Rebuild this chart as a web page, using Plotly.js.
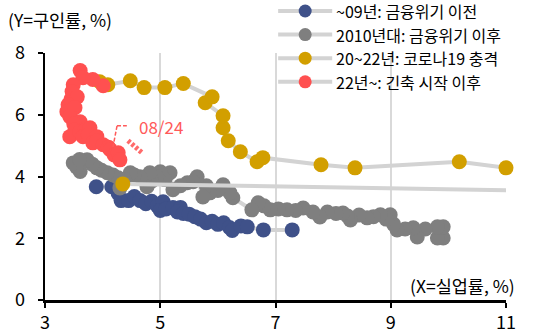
<!DOCTYPE html>
<html>
<head>
<meta charset="utf-8">
<script src="https://cdn.plot.ly/plotly-3.0.1.min.js"></script>
<style>html,body{margin:0;padding:0;background:#fff;}#chart{width:543px;height:333px;}</style>
</head>
<body>
<div id="chart"></div>
<script>
// Series names and colours
const seriesNames = ["~09년: 금융위기 이전", "2010년대: 금융위기 이후", "20~22년: 코로나19 충격", "22년~: 긴축 시작 이후"];
const seriesColors = ["#3f5189", "#7f7f7f", "#d29f00", "#ff5050"];

// ~09: unemployment rate (x) and job openings rate (y)
const preX = [3.89, 4.16, 4.27, 4.32, 4.45, 4.55, 4.65, 4.75, 4.85, 4.95, 5.05, 5.00, 5.10, 5.22, 5.35, 5.30, 5.40, 5.50, 5.60, 5.70, 5.80, 5.90, 6.00, 6.10, 6.20, 6.25, 6.40, 6.51, 6.79, 7.29];
const preY = [3.67, 3.67, 3.45, 3.22, 3.22, 3.35, 3.22, 3.12, 3.20, 3.05, 3.18, 2.90, 2.95, 3.00, 3.00, 2.85, 2.80, 2.78, 2.70, 2.62, 2.50, 2.55, 2.45, 2.50, 2.35, 2.25, 2.40, 2.37, 2.27, 2.27];

// 2010s
const decX = [9.91, 9.81, 9.91, 9.81, 9.60, 9.46, 9.39, 9.25, 9.11, 9.05, 8.99, 8.92, 8.82, 8.70, 8.59, 8.45, 8.30, 8.25, 8.17, 8.05, 7.90, 7.77, 7.65, 7.48, 7.35, 7.20, 7.05, 6.91, 6.80, 6.70, 6.59, 6.26, 6.21, 6.09, 6.00, 5.86, 5.80, 5.74, 5.64, 5.57, 5.47, 5.35, 5.22, 5.17, 5.08, 5.00, 4.94, 4.85, 4.77, 4.82, 4.65, 4.55, 4.48, 4.38, 4.30, 4.27, 4.18, 4.08, 3.98, 3.90, 3.82, 3.73, 3.61, 3.55, 3.49, 3.60];
const decY = [2.01, 2.01, 2.37, 2.37, 2.30, 2.04, 2.34, 2.30, 2.27, 2.45, 2.76, 2.62, 2.76, 2.70, 2.66, 2.75, 2.59, 2.72, 2.82, 2.80, 2.85, 2.69, 2.85, 2.98, 2.90, 2.92, 2.95, 2.92, 3.05, 3.15, 2.92, 3.31, 3.47, 3.73, 3.55, 3.47, 3.70, 3.34, 3.99, 3.83, 3.80, 3.70, 3.57, 4.12, 3.90, 4.15, 3.99, 3.85, 3.67, 4.12, 3.99, 4.05, 4.12, 3.90, 3.63, 3.96, 4.05, 4.12, 4.20, 4.28, 4.40, 4.54, 4.16, 4.30, 4.44, 4.55];

// 2020-2022 (COVID shock); April/May 2020 lie beyond the x-axis range
const covX = [4.35, 14.8, 13.2, 11.0, 10.19, 8.38, 7.79, 6.78, 6.68, 6.39, 6.18, 6.09, 6.09, 5.78, 5.90, 5.40, 5.08, 4.72, 4.48, 4.09, 3.95];
const covY = [3.76, 3.44, 3.90, 4.28, 4.48, 4.28, 4.38, 4.61, 4.48, 4.80, 5.16, 5.58, 5.97, 6.39, 6.58, 7.01, 6.88, 6.88, 7.10, 6.97, 7.07];

// 2022~ (tightening)
const tigX = [4.01, 3.83, 3.61, 3.66, 3.49, 3.45, 3.47, 3.56, 3.40, 3.38, 3.52, 3.43, 3.61, 3.50, 3.52, 3.43, 3.60, 3.70, 3.78, 3.66, 3.75, 3.90, 3.83, 3.90, 4.01, 4.10, 4.13, 4.20, 4.27, 4.30];
const tigY = [6.94, 7.14, 7.43, 7.20, 6.97, 6.50, 6.75, 6.58, 6.32, 6.10, 6.23, 5.94, 5.77, 5.70, 5.51, 5.29, 5.45, 5.50, 5.58, 5.29, 5.35, 5.29, 5.09, 5.15, 5.03, 4.95, 4.87, 4.70, 4.77, 4.54];

const xTicks = [3, 5, 7, 9, 11];
const yTicks = [0, 2, 4, 6, 8];

const FONT = "'Noto Sans CJK KR', 'Noto Sans', sans-serif";
const xs = [preX, decX, covX, tigX];
const ys = [preY, decY, covY, tigY];

const traces = xs.map((x, i) => ({
  type: 'scatter',
  mode: 'lines+markers',
  x: x, y: ys[i],
  name: seriesNames[i],
  showlegend: false,
  cliponaxis: false,
  line: {color: '#d3d3d3', width: 4},
  marker: {color: seriesColors[i], size: 15, line: {width: 0}},
  hoverinfo: 'skip'
}));

// Legend drawn by hand (plot area: x 45..505.7 px, y 53..300 px)
const legRowsPx = [11, 34.6, 58.2, 81.8];
const px2px = p => (p - 45) / 460.7;
const py2py = p => (300 - p) / 247;
const shapes = [];
const annotations = [];
legRowsPx.forEach((ry, i) => {
  const yy = py2py(ry);
  shapes.push({type: 'line', xref: 'paper', yref: 'paper', x0: px2px(278), x1: px2px(332), y0: yy, y1: yy, line: {color: '#d3d3d3', width: 4}});
  shapes.push({type: 'circle', xref: 'paper', yref: 'paper', xsizemode: 'pixel', ysizemode: 'pixel', xanchor: px2px(305), yanchor: yy, x0: -6.5, x1: 6.5, y0: -6.5, y1: 6.5, fillcolor: seriesColors[i], line: {width: 0}});
  annotations.push({text: seriesNames[i], xref: 'paper', yref: 'paper', x: px2px(335), y: yy, xanchor: 'left', yanchor: 'middle', showarrow: false, borderpad: 0, font: {family: FONT, size: 16, color: '#000'}});
});

annotations.push(
  {text: '(Y=구인률, %)', xref: 'paper', yref: 'paper', x: px2px(6), y: py2py(19), xanchor: 'left', yanchor: 'middle', showarrow: false, font: {family: FONT, size: 17.5, color: '#000'}},
  {text: '(X=실업률, %)', xref: 'paper', yref: 'paper', x: px2px(517), y: py2py(285), xanchor: 'right', yanchor: 'middle', showarrow: false, font: {family: FONT, size: 17.5, color: '#000'}},
  {text: '08/24', xref: 'x', yref: 'y', x: 5.01, y: 5.63, xanchor: 'center', yanchor: 'middle', showarrow: false, font: {family: FONT, size: 17, color: '#ff5a5a'}}
);
shapes.push(
  {type: 'line', xref: 'x', yref: 'y', x0: 4.25, y0: 5.64, x1: 4.42, y1: 5.64, line: {color: '#ff5a5a', width: 1.5, dash: '4px,2px'}},
  {type: 'line', xref: 'x', yref: 'y', x0: 4.25, y0: 5.64, x1: 4.18, y1: 4.96, line: {color: '#ff5a5a', width: 1.5, dash: '4px,2px'}},
  {type: 'line', xref: 'x', yref: 'y', x0: 4.44, y0: 5.16, x1: 4.70, y1: 4.74, line: {color: '#ff6a6a', width: 5, dash: '3px,2px'}}
);

const layout = {
  width: 543, height: 333,
  margin: {l: 45, r: 37.3, t: 53, b: 33},
  paper_bgcolor: '#fff', plot_bgcolor: '#fff',
  font: {family: FONT, size: 16, color: '#000'},
  showlegend: false,
  xaxis: {
    range: [3, 11], tickvals: xTicks, ticktext: xTicks.map(String),
    showgrid: true, gridcolor: '#d9d9d9', gridwidth: 2,
    zeroline: false, showline: true, linecolor: '#000', linewidth: 2.5,
    ticks: 'outside', ticklen: 5, tickwidth: 2, tickcolor: '#000',
    tickfont: {family: FONT, size: 18, color: '#000'}, fixedrange: true
  },
  yaxis: {
    range: [0, 8], tickvals: yTicks, ticktext: yTicks.map(String),
    showgrid: false, zeroline: false, showline: true, linecolor: '#000', linewidth: 2.5,
    ticks: 'outside', ticklen: 5, tickwidth: 2, tickcolor: '#000', ticklabelstandoff: 9,
    tickfont: {family: FONT, size: 18, color: '#000'}, fixedrange: true
  },
  annotations: annotations,
  shapes: shapes
};

Plotly.newPlot('chart', traces, layout, {staticPlot: true, displayModeBar: false});
</script>
</body>
</html>
